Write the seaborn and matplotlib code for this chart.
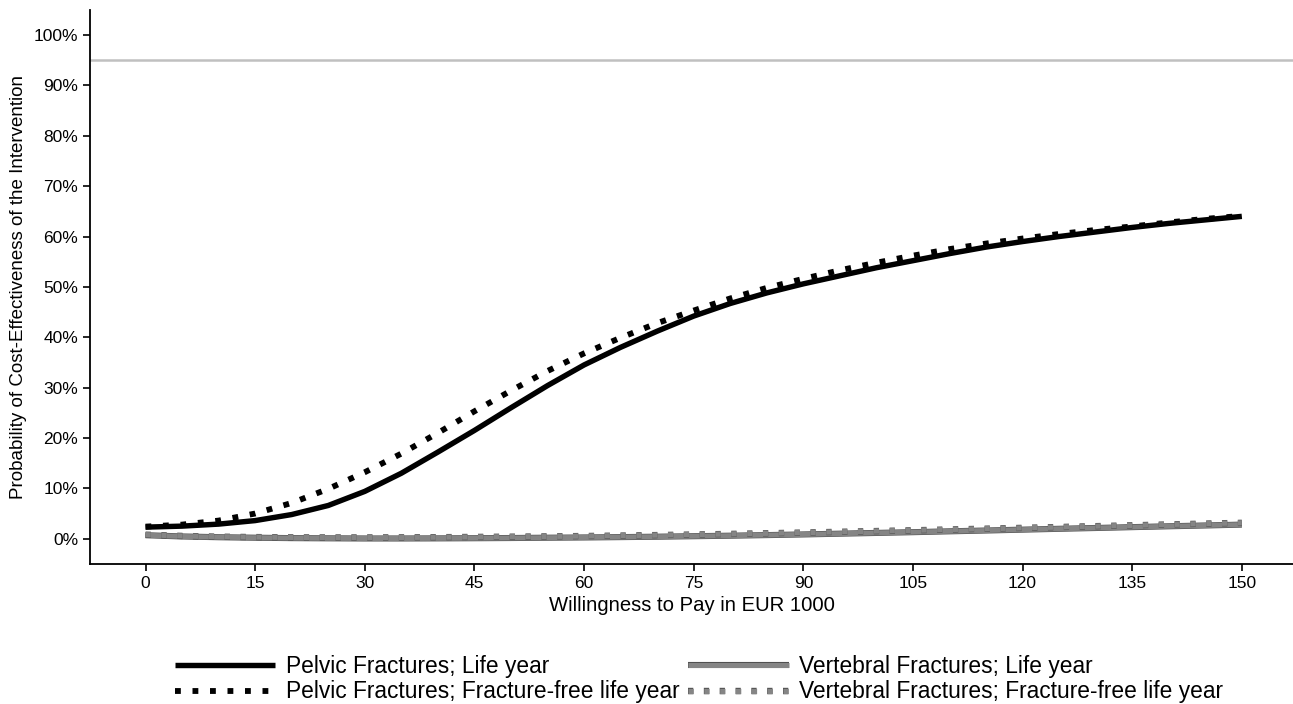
import numpy as np
import pandas as pd
import matplotlib
matplotlib.use("Agg")
import matplotlib.pyplot as plt
import matplotlib.patheffects as pe
import seaborn as sns
from matplotlib.ticker import FuncFormatter

# ---- data ----
wtp = list(range(0, 151, 5))
pelvic_ly = [2.3, 2.5, 2.9, 3.6, 4.8, 6.6, 9.4, 13.0, 17.2, 21.5, 26.0, 30.4,
             34.5, 38.0, 41.2, 44.2, 46.7, 48.8, 50.6, 52.2, 53.8, 55.2, 56.6,
             57.9, 59.0, 60.0, 60.9, 61.8, 62.6, 63.3, 64.0]
pelvic_ffly = [2.4, 2.8, 3.6, 5.0, 7.1, 9.9, 13.2, 16.9, 21.0, 25.3, 29.4, 33.3,
               36.8, 39.9, 42.8, 45.3, 47.7, 49.8, 51.6, 53.3, 54.8, 56.2, 57.5,
               58.6, 59.6, 60.5, 61.3, 62.0, 62.8, 63.5, 64.1]
vert_ly = [0.7, 0.45, 0.3, 0.2, 0.12, 0.08, 0.05, 0.05, 0.07, 0.1, 0.14, 0.2,
           0.25, 0.32, 0.4, 0.5, 0.6, 0.72, 0.85, 1.0, 1.15, 1.3, 1.47, 1.63,
           1.8, 1.97, 2.13, 2.3, 2.47, 2.63, 2.8]
vert_ffly = [0.8, 0.55, 0.4, 0.32, 0.27, 0.25, 0.25, 0.27, 0.3, 0.35, 0.4, 0.46,
             0.53, 0.62, 0.72, 0.83, 0.95, 1.08, 1.22, 1.37, 1.52, 1.67, 1.83,
             1.99, 2.15, 2.32, 2.49, 2.66, 2.83, 3.0, 3.15]
threshold = 95
labels = ["Pelvic Fractures; Life year",
          "Pelvic Fractures; Fracture-free life year",
          "Vertebral Fractures; Life year",
          "Vertebral Fractures; Fracture-free life year"]
xticks = list(range(0, 151, 15))
yticks = list(range(0, 101, 10))

series = [pelvic_ly, pelvic_ffly, vert_ly, vert_ffly]
frames = [pd.DataFrame({"wtp": wtp, "prob": np.array(v) / 100.0, "series": lab})
          for v, lab in zip(series, labels)]
df = pd.concat(frames, ignore_index=True)

sns.set_style("white")
plt.rcParams['font.family'] = ['Liberation Sans', 'DejaVu Sans']
plt.rcParams['text.color'] = 'black'

fig = plt.figure(figsize=(12.93, 7.04), dpi=100)
ax = fig.add_axes([0.0696, 0.199, 0.9304, 0.787])

ax.axhline(threshold / 100.0, color="#c0c0c0", lw=1.8, zorder=1)

styles = {
    labels[0]: dict(color="black", lw=3.9, ls="-", pe=None),
    labels[1]: dict(color="black", lw=4.2, ls=(0, (1, 2.0)), pe=None),
    labels[2]: dict(color="#858585", lw=3.6, ls="-",
                    pe=[pe.Stroke(linewidth=4.4, foreground="#505050"), pe.Normal()]),
    labels[3]: dict(color="#858585", lw=3.8, ls=(0, (1, 2.0)),
                    pe=[pe.Stroke(linewidth=4.6, foreground="#505050"), pe.Normal()]),
}

handles = []
for lab in labels:
    st = styles[lab]
    sub = df[df["series"] == lab]
    n_before = len(ax.lines)
    sns.lineplot(data=sub, x="wtp", y="prob", ax=ax, color=st["color"],
                 linewidth=st["lw"], linestyle=st["ls"], legend=False,
                 zorder=3)
    line = ax.lines[n_before]
    line.set_dash_capstyle("butt")
    line.set_solid_capstyle("butt")
    line.set_solid_joinstyle("round")
    if st["pe"] is not None:
        line.set_path_effects(st["pe"])
    line.set_label(lab)
    handles.append(line)

ax.set_xlim(-7.6, 157.0)
ax.set_ylim(-0.05, 1.05)
ax.set_xticks(xticks)
ax.set_yticks([t / 100.0 for t in yticks])
ax.yaxis.set_major_formatter(FuncFormatter(lambda v, p: f"{v*100:.0f}%"))
ax.tick_params(axis="both", labelsize=12.5, length=5, width=1.2, color="black",
               labelcolor="black", direction="out", bottom=True, left=True)

for s in ["top", "right"]:
    ax.spines[s].set_visible(False)
for s in ["left", "bottom"]:
    ax.spines[s].set_color("black")
    ax.spines[s].set_linewidth(1.3)

ax.set_xlabel("Willingness to Pay in EUR 1000", fontsize=14.6, color="black", labelpad=4)
ax.set_ylabel("Probability of Cost-Effectiveness of the Intervention", fontsize=13.5,
              color="black", labelpad=5)

leg = fig.legend(handles=handles, labels=labels, ncol=2, loc="center",
                 bbox_to_anchor=(0.5406, 0.035), frameon=False,
                 prop={"size": 16.4}, labelcolor="black",
                 handlelength=4.4, handletextpad=0.45, columnspacing=0.4,
                 labelspacing=0.1)

fig.savefig("out.png", dpi=100)
